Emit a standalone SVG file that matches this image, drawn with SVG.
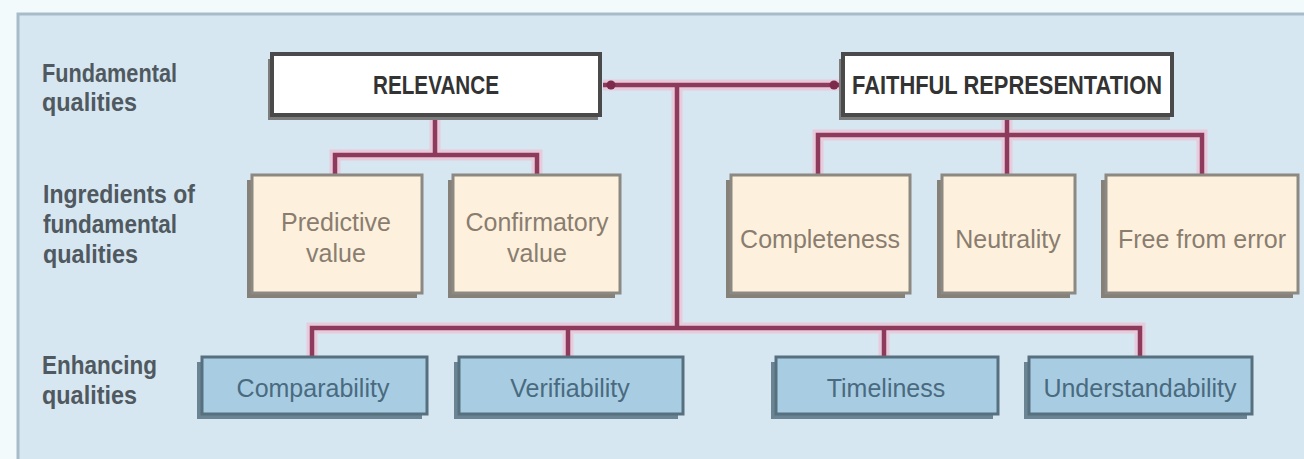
<svg xmlns="http://www.w3.org/2000/svg" width="1304" height="459" viewBox="0 0 1304 459">
<defs>
<style>
.lbl{font-family:"Liberation Sans",Arial,sans-serif;font-weight:bold;font-size:25px;fill:#50595f}
.hdr{font-family:"Liberation Sans",Arial,sans-serif;font-weight:bold;font-size:25px;fill:#333;text-anchor:middle}
.bt{font-family:"Liberation Sans",Arial,sans-serif;font-size:25px;fill:#8a7d70;text-anchor:middle}
.blt{font-family:"Liberation Sans",Arial,sans-serif;font-size:25px;fill:#4a6a80;text-anchor:middle}
.wbox{fill:#ffffff;stroke:#4a4a4a;stroke-width:4}
.wsh{fill:#7d7d7d}
.beige{fill:#fdf1dd;stroke:#8c8882;stroke-width:3}
.bsh{fill:#858179}
.blue{fill:#a8cde2;stroke:#56707f;stroke-width:3}
.blsh{fill:#6b8494}
.glow{fill:none;stroke:#f4b5c9;stroke-width:11;stroke-opacity:0.55;stroke-linejoin:miter}
.ln{fill:none;stroke:#8e3a5c;stroke-width:4.5;stroke-linejoin:miter}
</style>
</defs>
<rect x="0" y="0" width="1304" height="459" fill="#f3fafc"/>
<rect x="18" y="14" width="1300" height="460" fill="#d7e7f1" stroke="#a7bcc8" stroke-width="3"/>

<g id="row-labels">
<text class="lbl" x="42" y="82" textLength="135" lengthAdjust="spacingAndGlyphs">Fundamental</text>
<text class="lbl" x="42" y="111" textLength="95" lengthAdjust="spacingAndGlyphs">qualities</text>
<text class="lbl" x="43" y="203" textLength="152" lengthAdjust="spacingAndGlyphs">Ingredients of</text>
<text class="lbl" x="43" y="233" textLength="134" lengthAdjust="spacingAndGlyphs">fundamental</text>
<text class="lbl" x="43" y="263" textLength="95" lengthAdjust="spacingAndGlyphs">qualities</text>
<text class="lbl" x="42" y="374" textLength="115" lengthAdjust="spacingAndGlyphs">Enhancing</text>
<text class="lbl" x="42" y="404" textLength="95" lengthAdjust="spacingAndGlyphs">qualities</text>
</g>

<g id="connectors">
<path class="glow" d="M603 85 H840 M677 85 V328 M312 357 V328 H1140 V357 M568 328 V357 M884 328 V357 M435 116 V155 M335 175 V155 H537 V175 M1007 116 V135 M818 175 V135 H1202 V175 M1007 135 V175"/>
<path class="ln" d="M603 85 H840 M677 85 V328 M312 357 V328 H1140 V357 M568 328 V357 M884 328 V357 M435 116 V155 M335 175 V155 H537 V175 M1007 116 V135 M818 175 V135 H1202 V175 M1007 135 V175"/>
<circle cx="611" cy="85" r="4.5" fill="#7d2a4c"/>
<circle cx="834" cy="85" r="4.5" fill="#7d2a4c"/>
</g>

<g id="relevance">
<rect class="wsh" x="268" y="59" width="330" height="61"/>
<rect class="wbox" x="272" y="54" width="328" height="61"/>
<text class="hdr" x="436" y="94" textLength="126" lengthAdjust="spacingAndGlyphs">RELEVANCE</text>
</g>
<g id="faithful">
<rect class="wsh" x="839" y="59" width="331" height="61"/>
<rect class="wbox" x="843" y="54" width="329" height="61"/>
<text class="hdr" x="1007" y="94" textLength="310" lengthAdjust="spacingAndGlyphs">FAITHFUL REPRESENTATION</text>
</g>

<g id="predictive">
<rect class="bsh" x="247" y="180" width="170" height="118"/>
<rect class="beige" x="252" y="175" width="170" height="118"/>
<text class="bt" x="336" y="231">Predictive</text>
<text class="bt" x="336" y="262">value</text>
</g>
<g id="confirmatory">
<rect class="bsh" x="448" y="180" width="167" height="118"/>
<rect class="beige" x="453" y="175" width="167" height="118"/>
<text class="bt" x="537" y="231">Confirmatory</text>
<text class="bt" x="537" y="262">value</text>
</g>
<g id="completeness">
<rect class="bsh" x="726" y="180" width="179" height="118"/>
<rect class="beige" x="731" y="175" width="179" height="118"/>
<text class="bt" x="820" y="248">Completeness</text>
</g>
<g id="neutrality">
<rect class="bsh" x="937" y="180" width="133" height="118"/>
<rect class="beige" x="942" y="175" width="133" height="118"/>
<text class="bt" x="1008" y="248">Neutrality</text>
</g>
<g id="free-from-error">
<rect class="bsh" x="1101" y="180" width="192" height="118"/>
<rect class="beige" x="1106" y="175" width="192" height="118"/>
<text class="bt" x="1202" y="248">Free from error</text>
</g>

<g id="comparability">
<rect class="blsh" x="197" y="362" width="225" height="57"/>
<rect class="blue" x="202" y="357" width="225" height="57"/>
<text class="blt" x="313" y="397">Comparability</text>
</g>
<g id="verifiability">
<rect class="blsh" x="454" y="362" width="224" height="57"/>
<rect class="blue" x="459" y="357" width="224" height="57"/>
<text class="blt" x="570" y="397">Verifiability</text>
</g>
<g id="timeliness">
<rect class="blsh" x="771" y="362" width="222" height="57"/>
<rect class="blue" x="776" y="357" width="222" height="57"/>
<text class="blt" x="886" y="397">Timeliness</text>
</g>
<g id="understandability">
<rect class="blsh" x="1024" y="362" width="223" height="57"/>
<rect class="blue" x="1029" y="357" width="223" height="57"/>
<text class="blt" x="1140" y="397">Understandability</text>
</g>
</svg>
